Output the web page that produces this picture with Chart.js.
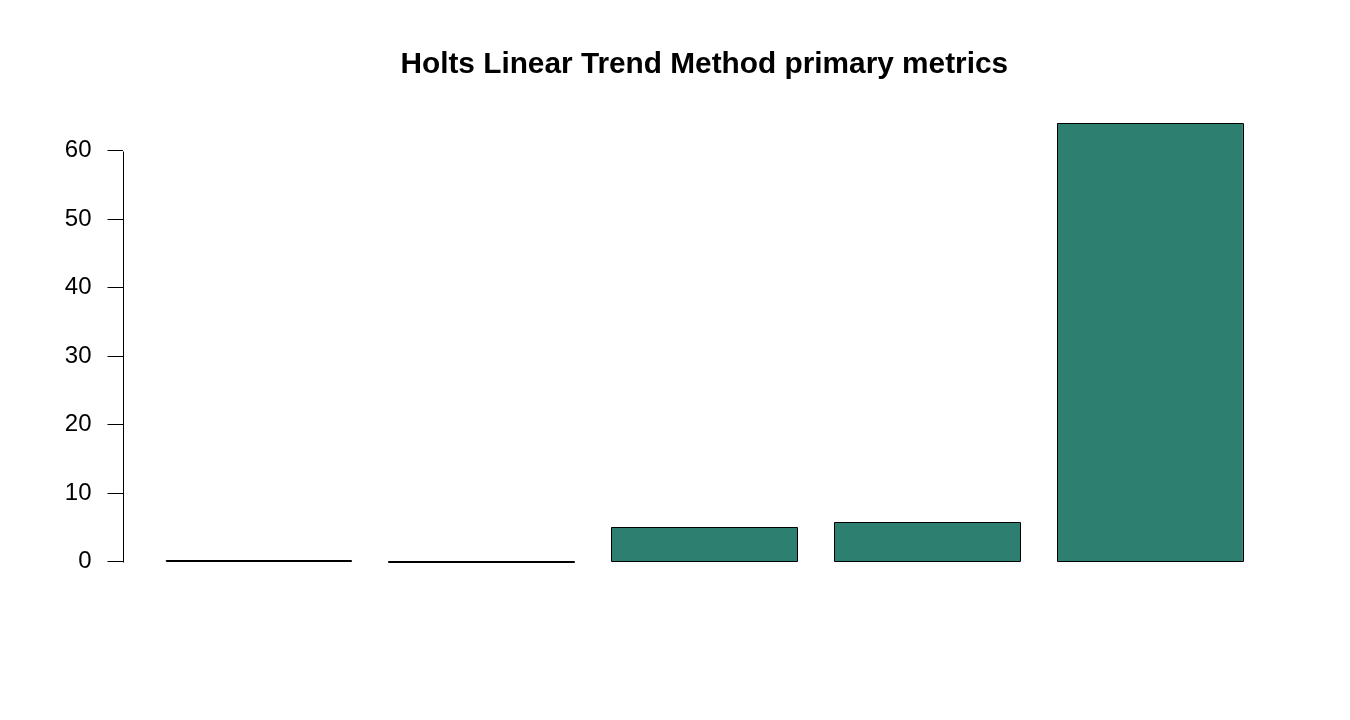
<!DOCTYPE html>
<html>
<head>
<meta charset="utf-8">
<script src="https://cdn.jsdelivr.net/npm/chart.js@4"></script>
<style>
html,body{margin:0;padding:0;background:#fff;}
#wrap{width:1350px;height:720px;}
</style>
</head>
<body>
<div id="wrap"><canvas id="c" width="1350" height="720"></canvas></div>
<script>
// ---- data ----
const titleText = "Holts Linear Trend Method primary metrics";
const categories = ["ME", "RMSE", "MAE", "MPE", "MAPE"];
const values = [0.22, 0.03, 5.04, 5.77, 64.07];
const yTicks = [0, 10, 20, 30, 40, 50, 60];

const FONT = "'Liberation Sans', Arial, Helvetica, sans-serif";
const barColor = "#2D806F";

const yTop = Math.max(...values);
const yMin = -0.04 * yTop;
const yMax = 1.04 * yTop;

// outline bars (R style: border centred on edges)
const outlinePlugin = {
  id: 'outline',
  afterDatasetsDraw(chart) {
    const ctx = chart.ctx;
    const meta = chart.getDatasetMeta(0);
    ctx.save();
    ctx.strokeStyle = '#000';
    ctx.lineWidth = 1;
    meta.data.forEach(el => {
      const p = el.getProps(['x', 'y', 'base', 'width'], true);
      const l = Math.round(p.x - p.width / 2) + 0.5;
      const r = Math.round(p.x + p.width / 2) + 0.5;
      const t = Math.round(p.y) + 0.5;
      const b = Math.round(p.base) + 0.5;
      ctx.beginPath();
      ctx.rect(l, t, r - l, b - t);
      ctx.stroke();
    });
    ctx.restore();
  }
};

// y axis line spanning only the tick range
const axisLinePlugin = {
  id: 'axisLine',
  afterDraw(chart) {
    const y = chart.scales.y;
    const ctx = chart.ctx;
    const x = Math.round(chart.chartArea.left) + 0.5;
    ctx.save();
    ctx.strokeStyle = '#000';
    ctx.lineWidth = 1;
    ctx.beginPath();
    ctx.moveTo(x, Math.round(y.getPixelForValue(yTicks[0])) + 0.5);
    ctx.lineTo(x, Math.round(y.getPixelForValue(yTicks[yTicks.length - 1])) + 0.5);
    ctx.stroke();
    ctx.restore();
  }
};

new Chart(document.getElementById('c'), {
  type: 'bar',
  data: {
    datasets: [{
      label: 'metrics',
      data: values.map((v, i) => ({ x: i, y: v })),
      backgroundColor: barColor,
      borderWidth: 0,
      categoryPercentage: 1,
      barPercentage: 1 / 1.2
    }]
  },
  options: {
    responsive: false,
    animation: false,
    devicePixelRatio: 1,
    layout: { padding: { left: 0, right: 64, top: 0, bottom: 140.6 } },
    plugins: {
      legend: { display: false },
      tooltip: { enabled: false },
      title: {
        display: true,
        text: titleText,
        fullSize: false,
        color: '#000',
        font: { family: FONT, size: 29.8, weight: 'bold', lineHeight: 1.2 },
        padding: { top: 47.1, bottom: 22.5 }
      }
    },
    scales: {
      x: {
        type: 'linear',
        display: false,
        min: -0.61,
        max: categories.length - 1 + 0.61,
        offset: false,
        afterBuildTicks(scale) {
          scale.ticks = categories.map((c, i) => ({ value: i }));
        }
      },
      y: {
        type: 'linear',
        min: yMin,
        max: yMax,
        afterBuildTicks(scale) {
          scale.ticks = yTicks.map(v => ({ value: v }));
        },
        afterFit(scale) { scale.width = 122.5; },
        border: { display: false },
        grid: {
          drawOnChartArea: false,
          drawTicks: true,
          tickLength: 15,
          tickColor: '#000',
          lineWidth: 1
        },
        ticks: {
          color: '#000',
          padding: 16,
          font: { family: FONT, size: 24 },
          callback: v => String(v)
        }
      }
    }
  },
  plugins: [outlinePlugin, axisLinePlugin]
});
</script>
</body>
</html>
